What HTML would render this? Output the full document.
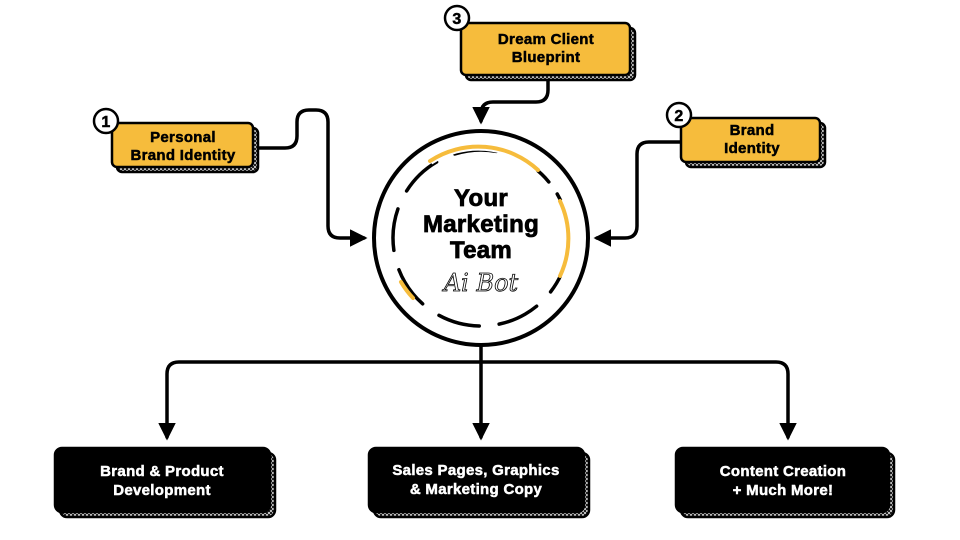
<!DOCTYPE html>
<html><head><meta charset="utf-8"><style>
body{margin:0;background:#fff}
svg{display:block}
.t{font-family:"Liberation Sans",sans-serif;font-weight:900;font-size:15px;text-anchor:middle;letter-spacing:.3px;stroke:currentColor;stroke-width:.5}
</style></head><body>
<svg width="960" height="540" viewBox="0 0 960 540" xmlns="http://www.w3.org/2000/svg">
<defs>
<pattern id="h" width="4" height="4" patternUnits="userSpaceOnUse">
<rect width="4" height="4" fill="#222"/><rect x="0" y="0" width="2" height="2" fill="#bbb"/><rect x="2" y="2" width="2" height="2" fill="#bbb"/>
</pattern>
<marker id="a" viewBox="0 0 10 10" refX="8" refY="5" markerWidth="5" markerHeight="5" orient="auto"><path d="M0,0L10,5L0,10z" fill="#000"/></marker>
</defs>
<g fill="none" stroke="#000" stroke-width="3.5" stroke-linecap="round" stroke-linejoin="round">
<path d="M253,148 H285 Q297,148 297,136 V122 Q297,110 309,110 H316 Q328,110 328,122 V226 Q328,238 340,238 H364" marker-end="url(#a)"/>
<path d="M548,76 V90 Q548,102 536,102 H493 Q481,102 481,114 V121" marker-end="url(#a)"/>
<path d="M681,142 H649 Q637,142 637,154 V226 Q637,238 625,238 H597" marker-end="url(#a)"/>
<path d="M481,346 V437" marker-end="url(#a)"/>
<path d="M481,362 H179 Q167,362 167,374 V437" marker-end="url(#a)"/>
<path d="M481,362 H776 Q788,362 788,374 V437" marker-end="url(#a)"/>
</g>
<circle cx="481" cy="238" r="107" fill="#fff" stroke="#000" stroke-width="4"/>
<circle cx="481" cy="238" r="88" fill="none" stroke="#000" stroke-width="3.5" stroke-dasharray="42 20" stroke-linecap="round" transform="rotate(-30 481 238)"/>
<path d="M430,161 A88,88 0 0 1 538,170" fill="none" stroke="#fff" stroke-width="8"/>
<path d="M430,161 A88,88 0 0 1 538,170" fill="none" stroke="#f6bc3c" stroke-width="4" stroke-linecap="round"/>
<path d="M560,201 A88,88 0 0 1 560,276" fill="none" stroke="#fff" stroke-width="8"/>
<path d="M560,201 A88,88 0 0 1 560,276" fill="none" stroke="#f6bc3c" stroke-width="4" stroke-linecap="round"/>
<path d="M401,282 A88,88 0 0 0 413,298" fill="none" stroke="#f6bc3c" stroke-width="4" stroke-linecap="round"/>
<text x="481" y="206" class="t" style="font-size:24px;stroke-width:.8">Your</text>
<text x="481" y="232" class="t" style="font-size:24px;stroke-width:.8">Marketing</text>
<text x="481" y="258" class="t" style="font-size:24px;stroke-width:.8">Team</text>
<text x="481" y="291" text-anchor="middle" font-family="DejaVu Serif,serif" font-style="italic" font-size="24" fill="none" stroke="#000" stroke-width="0.8">Ai Bot</text>
<g stroke="#000" stroke-width="2.5">
<rect x="117" y="128" width="141" height="44" rx="5" fill="url(#h)"/>
<rect x="112" y="123" width="141" height="44" rx="5" fill="#f6bc3c"/>
<rect x="466" y="28" width="169" height="52" rx="5" fill="url(#h)"/>
<rect x="461" y="23" width="169" height="52" rx="5" fill="#f6bc3c"/>
<rect x="686" y="123" width="139" height="44" rx="5" fill="url(#h)"/>
<rect x="681" y="118" width="139" height="44" rx="5" fill="#f6bc3c"/>
<circle cx="106" cy="121" r="12" fill="#fff"/>
<circle cx="457" cy="18" r="12" fill="#fff"/>
<circle cx="679" cy="115" r="12" fill="#fff"/>
<rect x="60" y="453" width="215" height="64" rx="7" fill="url(#h)"/>
<rect x="55" y="448" width="215" height="64" rx="7" fill="#000"/>
<rect x="374" y="453" width="215" height="64" rx="7" fill="url(#h)"/>
<rect x="369" y="448" width="215" height="64" rx="7" fill="#000"/>
<rect x="681" y="453" width="213" height="64" rx="7" fill="url(#h)"/>
<rect x="676" y="448" width="213" height="64" rx="7" fill="#000"/>
</g>
<text x="106" y="127" class="t" style="font-size:16px">1</text>
<text x="457" y="24" class="t" style="font-size:16px">3</text>
<text x="679" y="121" class="t" style="font-size:16px">2</text>
<text x="183" y="142" class="t">Personal</text>
<text x="183" y="160" class="t">Brand Identity</text>
<text x="546" y="44" class="t">Dream Client</text>
<text x="546" y="62" class="t">Blueprint</text>
<text x="752" y="135" class="t">Brand</text>
<text x="752" y="153" class="t">Identity</text>
<g style="color:#fff">
<text x="162" y="476" class="t" fill="#fff">Brand &amp; Product</text>
<text x="162" y="495" class="t" fill="#fff">Development</text>
<text x="476" y="475" class="t" fill="#fff">Sales Pages, Graphics</text>
<text x="476" y="494" class="t" fill="#fff">&amp; Marketing Copy</text>
<text x="783" y="476" class="t" fill="#fff">Content Creation</text>
<text x="783" y="495" class="t" fill="#fff">+ Much More!</text>
</g>
</svg>
</body></html>
